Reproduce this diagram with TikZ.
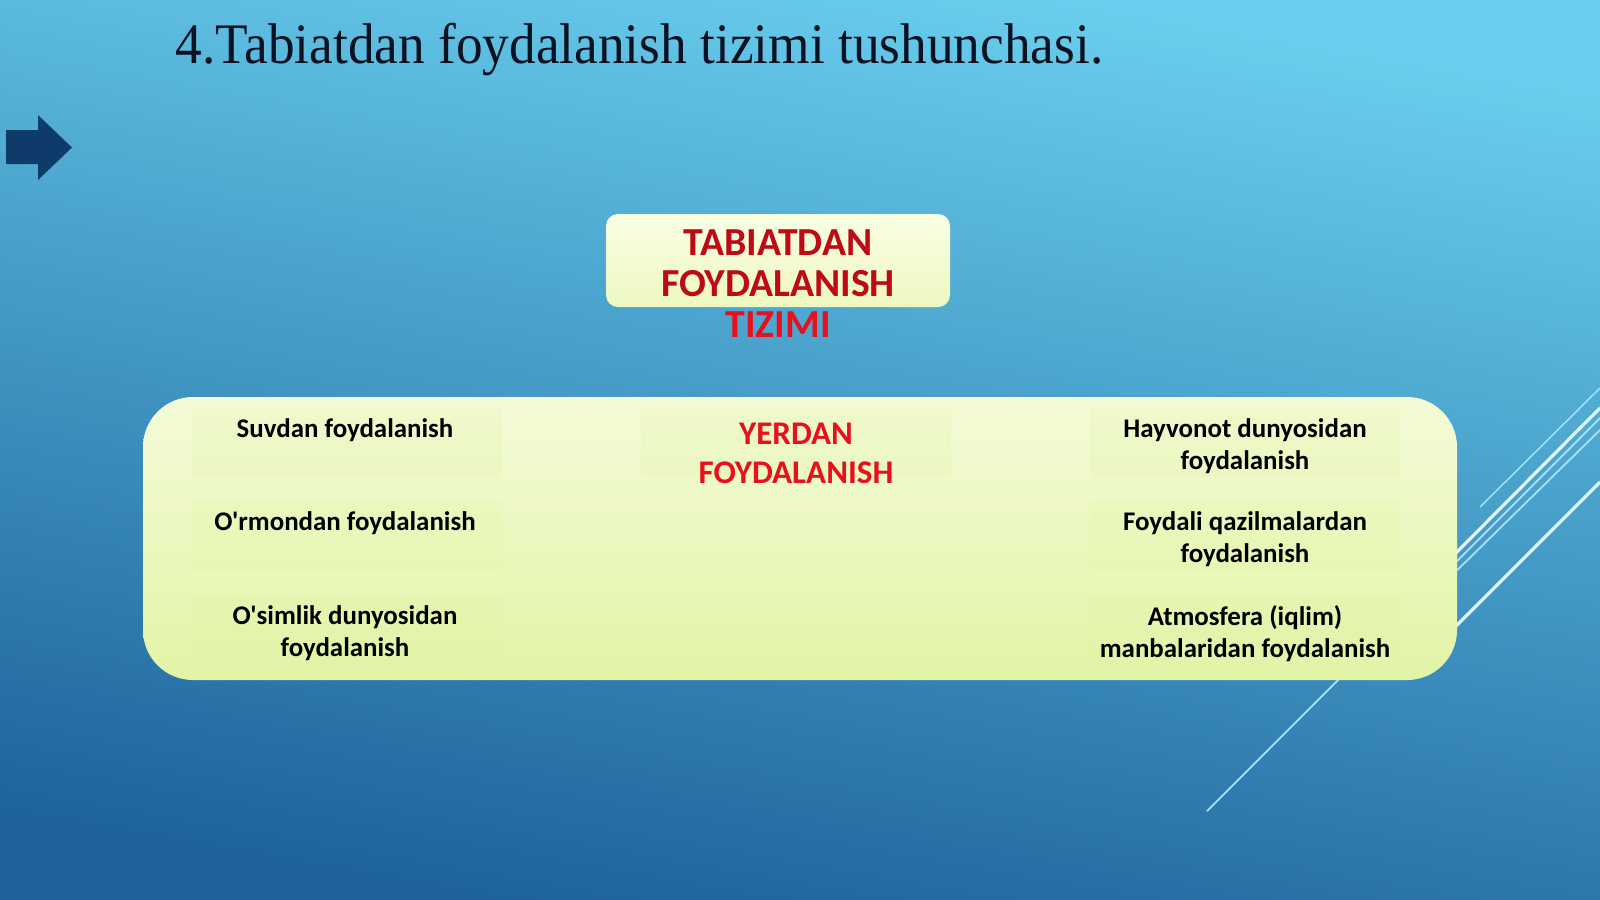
\documentclass[tikz,border=0pt]{standalone}
\usepackage{fontspec}
\usepackage{graphicx}
\usepackage{tikz}
\usepackage{xcolor}
\newfontfamily\calibri{Carlito}
\newfontfamily\titlefont{Liberation Serif}
\definecolor{bgtop}{HTML}{6ACFEE}
\definecolor{bgbottom}{HTML}{1D629C}
\definecolor{arrowblue}{HTML}{0F3B6B}
\definecolor{panellight}{HTML}{F4FBD8}
\definecolor{paneldark}{HTML}{E2F4A6}
\definecolor{boxlight}{HTML}{FAFEE4}
\definecolor{boxdark}{HTML}{EDF8C0}
\definecolor{darkred}{HTML}{BE0A14}
\definecolor{brightred}{HTML}{E8101C}
\definecolor{streak}{HTML}{E2F7FF}
\definecolor{streakthin}{HTML}{A8E4F8}
\definecolor{titleink}{HTML}{0A1222}

\begin{document}
\begin{tikzpicture}[x=0.01cm, y=-0.01cm,
    cellbg/.style={fill=paneldark, fill opacity=0.22},
    celltext/.style={font=\calibri\fontsize{7.65}{9.07}\selectfont\bfseries, align=center, anchor=north, inner sep=0pt},
    heading/.style={align=center, anchor=north, inner sep=0pt}]
            % background
            \shade[top color=bgtop, bottom color=bgbottom, shading angle=-10] (0,0) rectangle (1600,899);
            \useasboundingbox (0,0) rectangle (1600,899);
            % streaks on the right
            \draw[streakthin, line width=0.4pt] (1480,507) -- (1600,388);
            \draw[streak, line width=0.9pt] (1440,569) -- (1600,408);
            \draw[streakthin, line width=0.5pt] (1207,811) -- (1600,418);
            \draw[streakthin, line width=0.5pt] (1440,587) -- (1600,430);
            \draw[streak, line width=0.9pt] (1440,642) -- (1600,482);
            % arrow
            \fill[arrowblue] (6,130) -- (38,130) -- (38,115) -- (72,147.5) -- (38,180) -- (38,164) -- (6,164) -- cycle;
            % title
            \node[anchor=base west, inner sep=0pt, text=titleink, font=\titlefont\fontsize{16.3}{18}\selectfont] (title) at (175,63)
                {\scalebox{0.93}[1]{4.Tabiatdan foydalanish tizimi tushunchasi.}};
            % top box
            \shade[rounded corners=3.4pt, top color=boxlight, bottom color=boxdark] (606,214) rectangle (950,307);
            \node[heading, text=darkred, font=\calibri\fontsize{11.3}{11.6}\selectfont\bfseries] (system) at (778,229)
                {TABIATDAN\\FOYDALANISH\\\textcolor{brightred}{TIZIMI}};
            % panel
            \shade[rounded corners=14.2pt, top color=panellight, bottom color=paneldark] (143,397) rectangle (1457,680);
            \foreach \x in {192,1090}
                \foreach \y in {408,502,596}
                    \fill[cellbg] (\x,\y) rectangle ++(310,70);
            \fill[cellbg] (641,408) rectangle ++(310,70);
            \node[celltext] (water) at (345,418) {Suvdan foydalanish};
            \node[celltext] (forest) at (345,511) {O'rmondan foydalanish};
            \node[celltext] (plants) at (345,605) {O'simlik dunyosidan\\foydalanish};
            \node[heading, text=brightred, font=\calibri\fontsize{9.4}{11.3}\selectfont\bfseries] (land) at (796,422) {YERDAN\\FOYDALANISH};
            \node[celltext] (animals) at (1245,418) {Hayvonot dunyosidan\\foydalanish};
            \node[celltext] (minerals) at (1245,511) {Foydali qazilmalardan\\foydalanish};
            \node[celltext] (climate) at (1245,605) {Atmosfera (iqlim)\\manbalaridan foydalanish};
        \end{tikzpicture}
\end{document}
